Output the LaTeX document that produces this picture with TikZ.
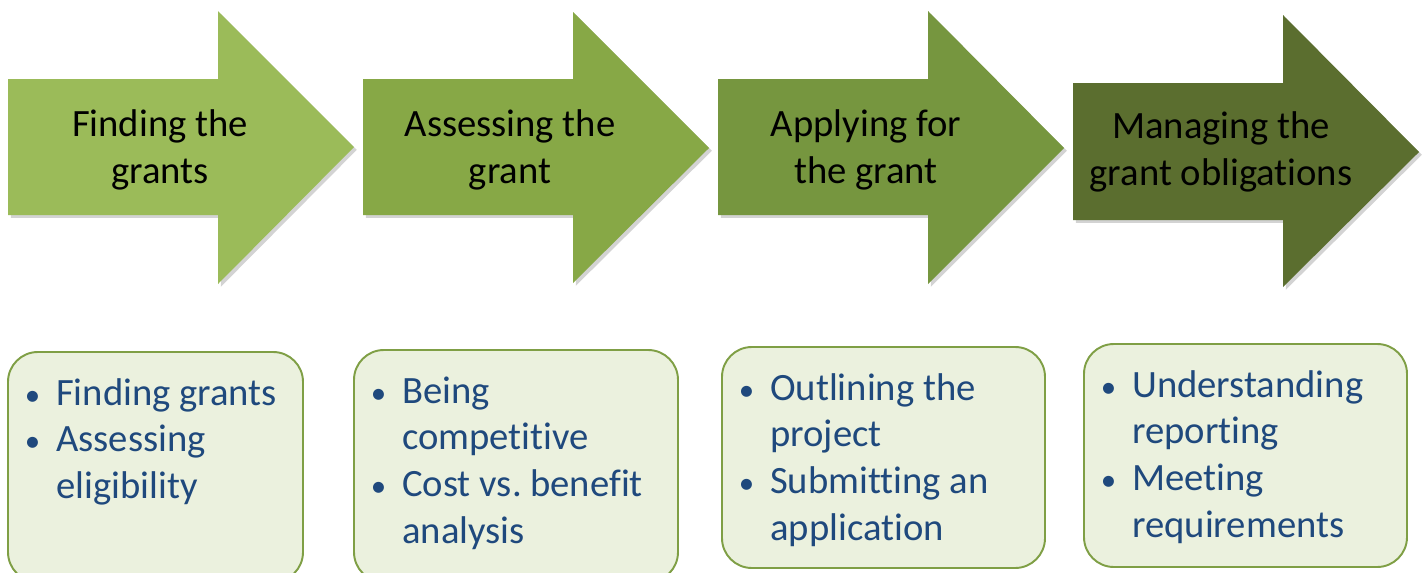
\documentclass[tikz,border=0pt]{standalone}
\usepackage{fontspec}
\setmainfont{Carlito}[Ligatures=NoCommon]
\usepackage{tikz}
\usetikzlibrary{shadows, calc}
\frenchspacing

\definecolor{stepOne}{HTML}{9BBB59}
\definecolor{stepTwo}{HTML}{87A846}
\definecolor{stepThree}{HTML}{76963F}
\definecolor{stepFour}{HTML}{5B6E2F}
\definecolor{boxFill}{HTML}{EBF1DE}
\definecolor{boxLine}{HTML}{7F9F45}
\definecolor{noteBlue}{HTML}{1F497D}

%% bullet mark, fixed width so the text lines up
\newcommand{\bul}{\makebox[15.3pt][l]{\kern-2.5pt\scalebox{0.8}{\textbullet}}}

\tikzset{
  stepArrow/.style={drop shadow={opacity=0.35, shadow xshift=1.6pt, shadow yshift=-1.6pt}},
  stepText/.style={align=center, inner sep=0pt, font=\fontsize{22}{26.6}\selectfont},
  noteBox/.style={draw=boxLine, line width=1.1pt, fill=boxFill, rounded corners=17pt},
  noteText/.style={anchor=north west, inner sep=0pt, text=noteBlue,
    font=\fontsize{22}{26.6}\selectfont}
}

\begin{document}
\begin{tikzpicture}[x=0.02cm, y=-0.02cm]

 %% frame, pixel units
\useasboundingbox (0,0) rectangle (1427,572);
\clip (0,0) rectangle (1427,572);

 %% ***Step 1 : Finding***
\path[fill=stepOne, stepArrow] (8,79) -- (218,79) -- (218,11) -- (354,147)
            -- (218,284) -- (218,215) -- (8,215) -- cycle;
\node[stepText] (find) at (160,150) {Finding the\\grants};

 %% ***Step 2 : Assessing***
\path[fill=stepTwo, stepArrow] (363,79) -- (573,79) -- (573,12) -- (709,148)
            -- (573,283) -- (573,215) -- (363,215) -- cycle;
\node[stepText] (assess) at (510,150) {Assessing the\\grant};

 %% ***Step 3 : Applying***
\path[fill=stepThree, stepArrow] (718,79) -- (928,79) -- (928,11) -- (1064,148)
            -- (928,284) -- (928,215) -- (718,215) -- cycle;
\node[stepText] (apply) at (866,150) {Applying for\\the grant};

 %% ***Step 4 : Managing***
\path[fill=stepFour, stepArrow] (1073,83) -- (1283,83) -- (1283,15) -- (1419,152)
            -- (1283,287) -- (1283,220) -- (1073,220) -- cycle;
\node[stepText] (manage) at (1221,152) {Managing the\\grant obligations};

 %% Boxes below each step
\draw[noteBox] (8,352) rectangle (303,582);
\node[noteText] (findNote) at (29,372) {\begin{tabular}{@{}l@{}l@{}}
  \bul & Finding grants\\ \bul & Assessing\\ & eligibility\end{tabular}};

\draw[noteBox] (354,350) rectangle (678,582);
\node[noteText] (assessNote) at (375,370) {\begin{tabular}{@{}l@{}l@{}}
  \bul & Being\\ & competitive\\ \bul & Cost vs. benefit\\ & analysis\end{tabular}};

\draw[noteBox] (722,347) rectangle (1045,568);
\node[noteText] (applyNote) at (743,367) {\begin{tabular}{@{}l@{}l@{}}
  \bul & Outlining the\\ & project\\ \bul & Submitting an\\ & application\end{tabular}};

\draw[noteBox] (1084,344) rectangle (1407,567);
\node[noteText] (manageNote) at (1105,364) {\begin{tabular}{@{}l@{}l@{}}
  \bul & Understanding\\ & reporting\\ \bul & Meeting\\ & requirements\end{tabular}};

\end{tikzpicture}
\end{document}
